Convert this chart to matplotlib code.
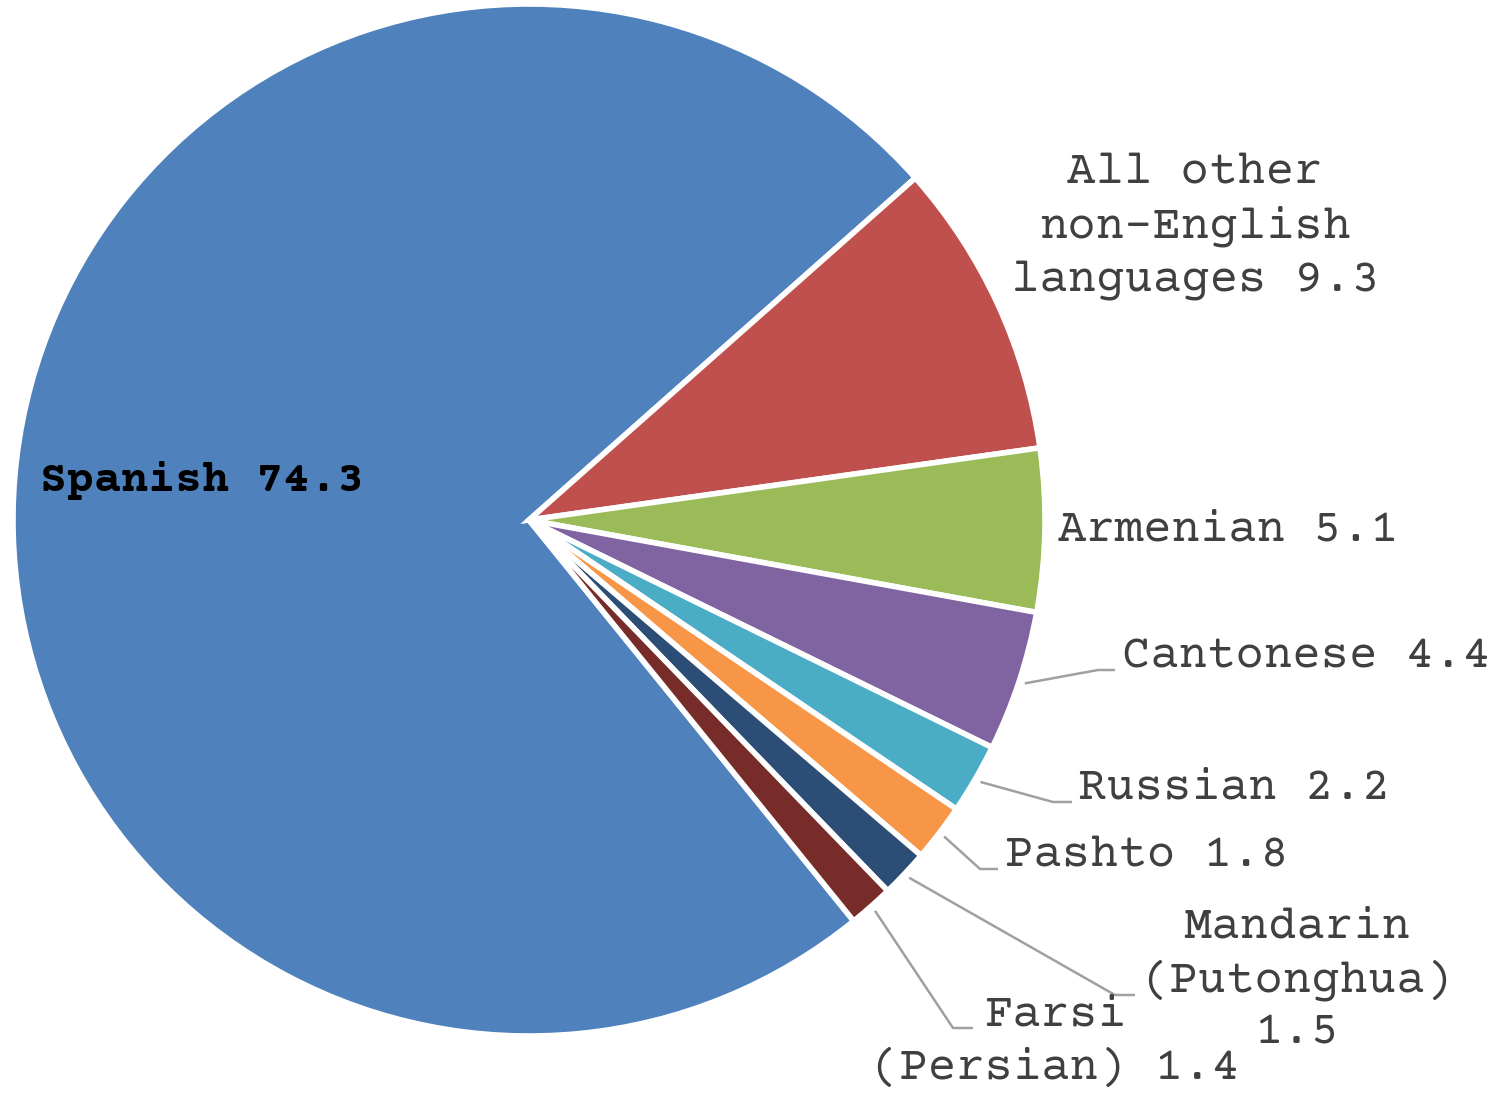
import matplotlib.pyplot as plt
from matplotlib import font_manager
import numpy as np

# data
languages = ['Spanish', 'All other\nnon-English\nlanguages', 'Armenian', 'Cantonese',
             'Russian', 'Pashto', 'Mandarin\n(Putonghua)', 'Farsi\n(Persian)']
shares = [74.3, 9.3, 5.1, 4.4, 2.2, 1.8, 1.5, 1.4]

colors = ['#4F81BD', '#C0504D', '#9BBB59', '#8064A2', '#4BACC6',
          '#F79646', '#2C4D75', '#772C2A']

W, H = 1499, 1095
cx, cy, r = 529, 520, 516
start = 309

available = set(f.name for f in font_manager.fontManager.ttflist)
font = 'Liberation Mono'
for cand in ['Courier New', 'Courier Prime', 'Nimbus Mono PS', 'Liberation Mono']:
    if cand in available:
        font = cand
        break

fs = 34
txt_col = '#404040'

fig = plt.figure(figsize=(W / 100, H / 100), dpi=100)
ax = fig.add_axes([0, 0, 1, 1])

wedges, _ = ax.pie(shares, colors=colors, startangle=start, counterclock=False,
                   center=(cx, H - cy), radius=r, frame=True,
                   wedgeprops=dict(edgecolor='white', linewidth=4))
ax.set_xlim(0, W)
ax.set_ylim(0, H)
ax.set_aspect('equal')
ax.axis('off')


def put(s, x, y, ha='left', **kw):
    ax.text(x, H - y, s, fontsize=fs, family=font, color=txt_col, ha=ha,
            va='center', **kw)


def lines(i, x, y0, step=54, last_on_own=False):
    parts = languages[i].split('\n')
    val = '%.1f' % shares[i]
    if last_on_own:
        parts = parts + [val]
    else:
        parts[-1] = parts[-1] + ' ' + val
    for k, p in enumerate(parts):
        put(p, x, y0 + k * step, ha='center')


def leader(i, elbow, end):
    w = wedges[i]
    ang = np.deg2rad((w.theta1 + w.theta2) / 2)
    x0 = cx + (r + 6) * np.cos(ang)
    y0 = (H - cy) + (r + 6) * np.sin(ang)
    ax.plot([x0, elbow[0], end[0]], [y0, H - elbow[1], H - end[1]],
            color='#A0A0A0', lw=1.8, solid_capstyle='butt')


ax.text(40, H - 480, 'Spanish %.1f' % shares[0], fontsize=32.5, family=font,
        weight='bold', color='black', ha='left', va='center')

lines(1, 1195, 172)
put('%s %.1f' % (languages[2], shares[2]), 1058, 530)

leader(3, (1098, 670), (1115, 670))
put('%s %.1f' % (languages[3], shares[3]), 1122, 657)

leader(4, (1053, 802), (1072, 802))
put('%s %.1f' % (languages[4], shares[4]), 1078, 788)

leader(5, (980, 869), (998, 869))
put('%s %.1f' % (languages[5], shares[5]), 1005, 855)

leader(6, (1115, 995), (1135, 995))
lines(6, 1297, 927, step=53, last_on_own=True)

leader(7, (953, 1028), (973, 1028))
lines(7, 1055, 1015, step=53)

fig.savefig('out.png', dpi=100, facecolor='white')
